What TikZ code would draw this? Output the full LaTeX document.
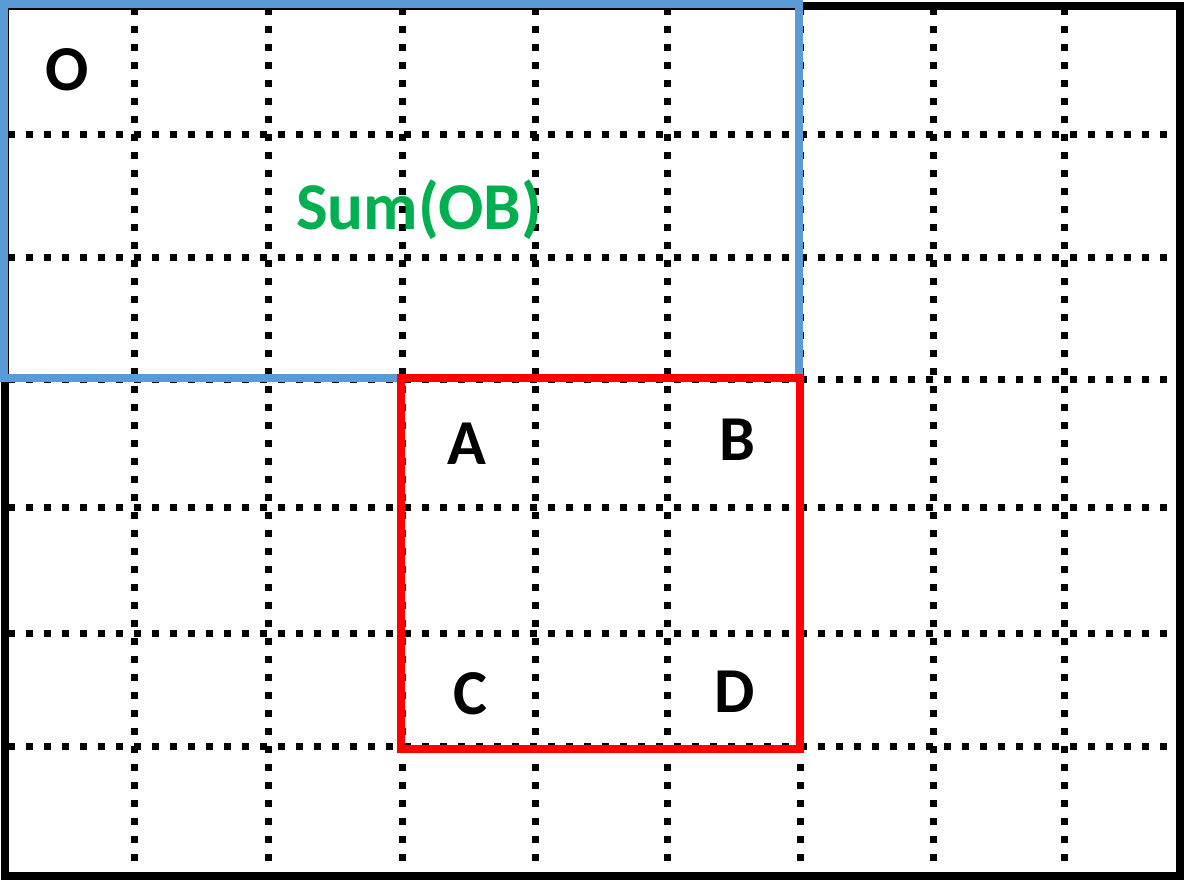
\documentclass[tikz,border=0pt]{standalone}
\usepackage{fontspec}
\setmainfont{Carlito}
\definecolor{myblue}{HTML}{5B9BD5}
\definecolor{mygreen}{HTML}{00B050}
\definecolor{myred}{HTML}{FF0000}
\tikzset{
  gridline/.style={line width=7pt, dash pattern=on 7pt off 11pt},
  lbl/.style={font=\fontsize{64}{64}\selectfont\bfseries, inner sep=0pt}
}
\begin{document}
\begin{tikzpicture}[x=1pt,y=-1pt]
\useasboundingbox (0,0) rectangle (1186,884);
\fill[white] (0,0) rectangle (1186,884);
% grid
\foreach \x in {134,268,402,535,667,800,933,1064}
  \draw[gridline] (\x,8) -- (\x,876);
\foreach \y in {134,257,379,507,633,746}
  \draw[gridline] (8,\y) -- (1178,\y);
% outer border
\draw[line width=8pt] (5,6) rectangle (1180,876);
% blue region
\draw[myblue, line width=8pt] (4,4) rectangle (799,378);
% red region
\draw[myred, line width=8pt] (401,378) rectangle (800,749);
% labels
\node[lbl] (O) at (67,70) {O};
\node[lbl, text=mygreen, font=\fontsize{67}{67}\selectfont\bfseries] (S) at (419,210) {Sum(OB)};
\node[lbl] (A) at (467,444) {A};
\node[lbl] (B) at (737,440) {B};
\node[lbl] (C) at (470,694) {C};
\node[lbl] (D) at (735,692) {D};
\end{tikzpicture}
\end{document}
